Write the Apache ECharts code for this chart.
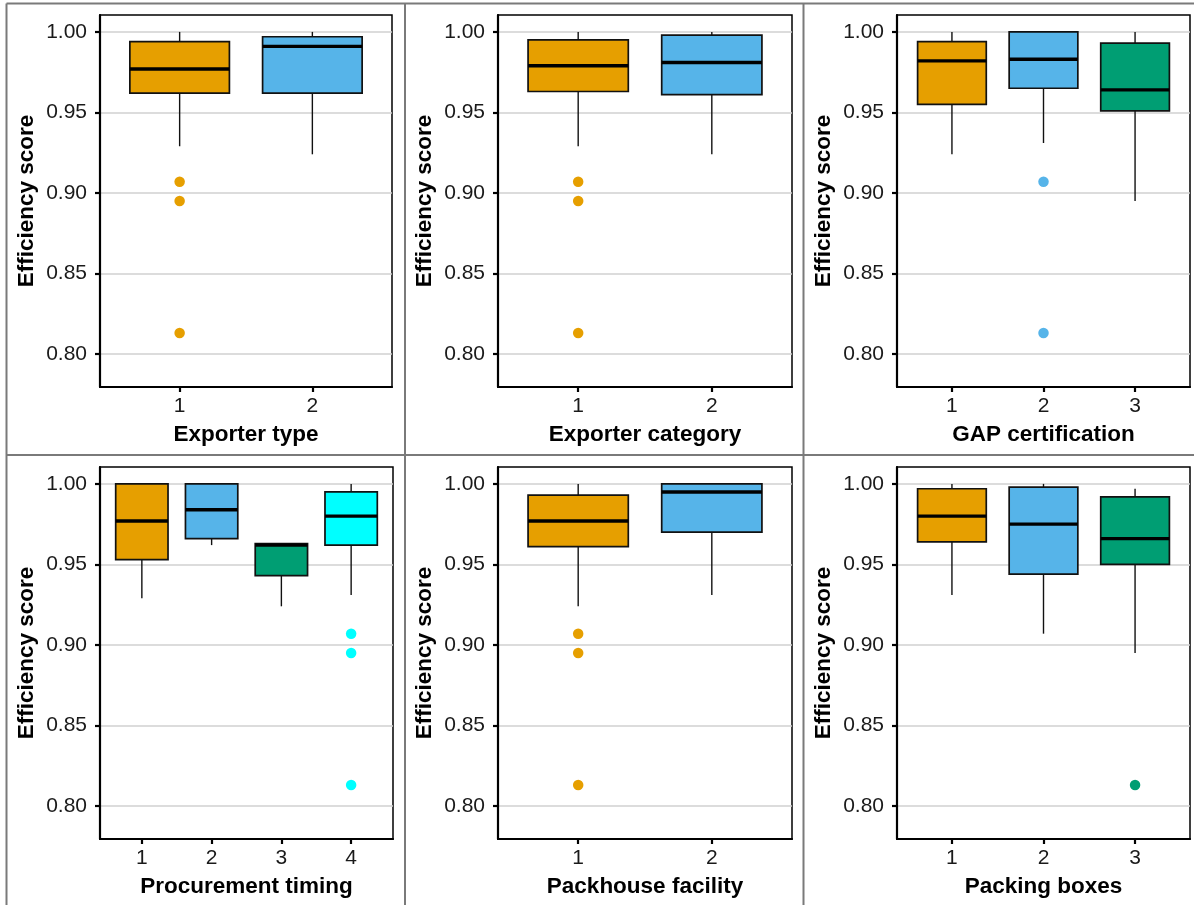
<!DOCTYPE html>
<html>
<head>
<meta charset="utf-8">
<script src="https://cdn.jsdelivr.net/npm/echarts@6/dist/echarts.min.js"></script>
<style>
  html, body { margin: 0; padding: 0; background: #ffffff; }
  #chart { width: 1194px; height: 905px; }
</style>
</head>
<body>
<div id="chart"></div>
<script>
// Efficiency score by exporter characteristic: six box-plot panels.
// Box rows are [lower whisker, Q1, median, Q3, upper whisker].

const yTicks = [0.80, 0.85, 0.90, 0.95, 1.00];
const yTitle = 'Efficiency score';
const groupColors = ['#E69F00', '#56B4E9', '#009E73', '#00FFFF'];

const exporterTypeCats = ['1', '2'];
const exporterTypeBoxes = [
  [0.929, 0.962, 0.977, 0.994, 1.000],
  [0.924, 0.962, 0.991, 0.997, 1.000]
];
const exporterTypeOutliers = [[0.907, 0.895, 0.813], []];

const exporterCategoryCats = ['1', '2'];
const exporterCategoryBoxes = [
  [0.929, 0.963, 0.979, 0.995, 1.000],
  [0.924, 0.961, 0.981, 0.998, 1.000]
];
const exporterCategoryOutliers = [[0.907, 0.895, 0.813], []];

const gapCats = ['1', '2', '3'];
const gapBoxes = [
  [0.924, 0.955, 0.982, 0.994, 1.000],
  [0.931, 0.965, 0.983, 1.000, 1.000],
  [0.895, 0.951, 0.964, 0.993, 1.000]
];
const gapOutliers = [[], [0.907, 0.813], []];

const procurementCats = ['1', '2', '3', '4'];
const procurementBoxes = [
  [0.929, 0.953, 0.977, 1.000, 1.000],
  [0.962, 0.966, 0.984, 1.000, 1.000],
  [0.924, 0.943, 0.962, 0.963, 0.963],
  [0.931, 0.962, 0.980, 0.995, 1.000]
];
const procurementOutliers = [[], [], [], [0.907, 0.895, 0.813]];

const packhouseCats = ['1', '2'];
const packhouseBoxes = [
  [0.924, 0.961, 0.977, 0.993, 1.000],
  [0.931, 0.970, 0.995, 1.000, 1.000]
];
const packhouseOutliers = [[0.907, 0.895, 0.813], []];

const packingCats = ['1', '2', '3'];
const packingBoxes = [
  [0.931, 0.964, 0.980, 0.997, 1.000],
  [0.907, 0.944, 0.975, 0.998, 1.000],
  [0.895, 0.950, 0.966, 0.992, 0.997]
];
const packingOutliers = [[], [], [0.813]];

const panels = [
  { title: 'Exporter type',       cats: exporterTypeCats,     boxes: exporterTypeBoxes,     outliers: exporterTypeOutliers },
  { title: 'Exporter category',   cats: exporterCategoryCats, boxes: exporterCategoryBoxes, outliers: exporterCategoryOutliers },
  { title: 'GAP certification',   cats: gapCats,              boxes: gapBoxes,              outliers: gapOutliers },
  { title: 'Procurement timing',  cats: procurementCats,      boxes: procurementBoxes,      outliers: procurementOutliers },
  { title: 'Packhouse facility',  cats: packhouseCats,        boxes: packhouseBoxes,        outliers: packhouseOutliers },
  { title: 'Packing boxes',       cats: packingCats,          boxes: packingBoxes,          outliers: packingOutliers }
];

// Plot rectangles of the 2 x 3 layout
const gridRects = [
  { left: 100, top: 15,  width: 292, height: 372 },
  { left: 498, top: 15,  width: 294, height: 372 },
  { left: 897, top: 15,  width: 293, height: 372 },
  { left: 100, top: 467, width: 293, height: 372 },
  { left: 498, top: 467, width: 294, height: 372 },
  { left: 897, top: 467, width: 293, height: 372 }
];

const FONT = 'Liberation Sans, Arial, sans-serif';
const Y_MIN = 0.7795, Y_MAX = 1.0105;

function renderBox(params, api) {
  const x = api.value(0);
  const lo = api.coord([x, api.value(1)]);
  const q1 = api.coord([x, api.value(2)]);
  const med = api.coord([x, api.value(3)]);
  const q3 = api.coord([x, api.value(4)]);
  const hi = api.coord([x, api.value(5)]);
  const half = api.size([0.75, 0])[0] / 2;
  const fill = api.visual('color');
  return {
    type: 'group',
    children: [
      { type: 'line', shape: { x1: lo[0], y1: lo[1], x2: q1[0], y2: q1[1] },
        style: { stroke: '#111', lineWidth: 1.4 } },
      { type: 'line', shape: { x1: q3[0], y1: q3[1], x2: hi[0], y2: hi[1] },
        style: { stroke: '#111', lineWidth: 1.4 } },
      { type: 'rect', shape: { x: q1[0] - half, y: q3[1], width: half * 2, height: q1[1] - q3[1] },
        style: { fill: fill, stroke: '#111', lineWidth: 1.7 } },
      { type: 'line', shape: { x1: med[0] - half, y1: med[1], x2: med[0] + half, y2: med[1] },
        style: { stroke: '#000', lineWidth: 3.4 } }
    ]
  };
}

const grid = [], xAxis = [], yAxis = [], series = [];

panels.forEach(function (p, i) {
  const n = p.cats.length;
  const xVals = p.cats.map(function (c, k) { return k + 1; });
  grid.push(Object.assign({
    show: true, borderColor: '#000', borderWidth: 1.5, backgroundColor: '#ffffff',
    containLabel: false
  }, gridRects[i]));

  xAxis.push({
    type: 'value', gridIndex: i, min: 0.4, max: n + 0.6,
    name: p.title, nameLocation: 'middle', nameGap: 36,
    nameTextStyle: { fontFamily: FONT, fontWeight: 'bold', fontSize: 22.5, color: '#000' },
    axisLine: { show: true, lineStyle: { color: '#000', width: 2.2 } },
    axisTick: { show: true, length: 5, customValues: xVals, lineStyle: { color: '#000', width: 2.2 } },
    axisLabel: { customValues: xVals, margin: 9, fontFamily: FONT, fontSize: 21, color: '#1a1a1a',
      formatter: function (v) { return p.cats[Math.round(v) - 1] || ''; } },
    splitLine: { show: false }
  });

  yAxis.push({
    type: 'value', gridIndex: i, min: Y_MIN, max: Y_MAX,
    name: yTitle, nameLocation: 'middle', nameRotate: 90, nameGap: 62,
    nameTextStyle: { fontFamily: FONT, fontWeight: 'bold', fontSize: 22.5, color: '#000' },
    axisLine: { show: true, lineStyle: { color: '#000', width: 2.2 } },
    axisTick: { show: true, length: 5, customValues: yTicks, lineStyle: { color: '#000', width: 2.2 } },
    axisLabel: { customValues: yTicks, margin: 13, fontFamily: FONT, fontSize: 21, color: '#1a1a1a',
      formatter: function (v) { return v.toFixed(2); } },
    splitLine: { show: true, lineStyle: { color: '#d0d0d0', width: 1.6 } }
  });

  series.push({
    type: 'custom', xAxisIndex: i, yAxisIndex: i,
    renderItem: renderBox,
    encode: { x: 0, y: [1, 2, 3, 4, 5] },
    data: p.boxes.map(function (b, k) {
      return { value: [k + 1].concat(b), itemStyle: { color: groupColors[k] } };
    }),
    z: 3
  });

  const pts = [];
  p.outliers.forEach(function (list, k) {
    list.forEach(function (v) {
      pts.push({ value: [k + 1, v], itemStyle: { color: groupColors[k], opacity: 1 } });
    });
  });
  series.push({
    type: 'scatter', xAxisIndex: i, yAxisIndex: i,
    symbol: 'circle', symbolSize: 10.5, data: pts, z: 4,
    itemStyle: { opacity: 1 }
  });
});

// Panel separators
const sepStyle = { stroke: '#7a7a7a', lineWidth: 2 };
const graphic = [
  { type: 'line', shape: { x1: 6.5, y1: 3.5, x2: 1194, y2: 3.5 }, style: sepStyle },
  { type: 'line', shape: { x1: 6.5, y1: 3.5, x2: 6.5, y2: 905 }, style: sepStyle },
  { type: 'line', shape: { x1: 405, y1: 3.5, x2: 405, y2: 905 }, style: sepStyle },
  { type: 'line', shape: { x1: 803.5, y1: 3.5, x2: 803.5, y2: 905 }, style: sepStyle },
  { type: 'line', shape: { x1: 6.5, y1: 455, x2: 1194, y2: 455 }, style: sepStyle }
];

const chart = echarts.init(document.getElementById('chart'), null, { renderer: 'canvas' });
chart.setOption({
  backgroundColor: '#ffffff',
  animation: false,
  grid: grid,
  xAxis: xAxis,
  yAxis: yAxis,
  series: series,
  graphic: graphic
});
</script>
</body>
</html>
